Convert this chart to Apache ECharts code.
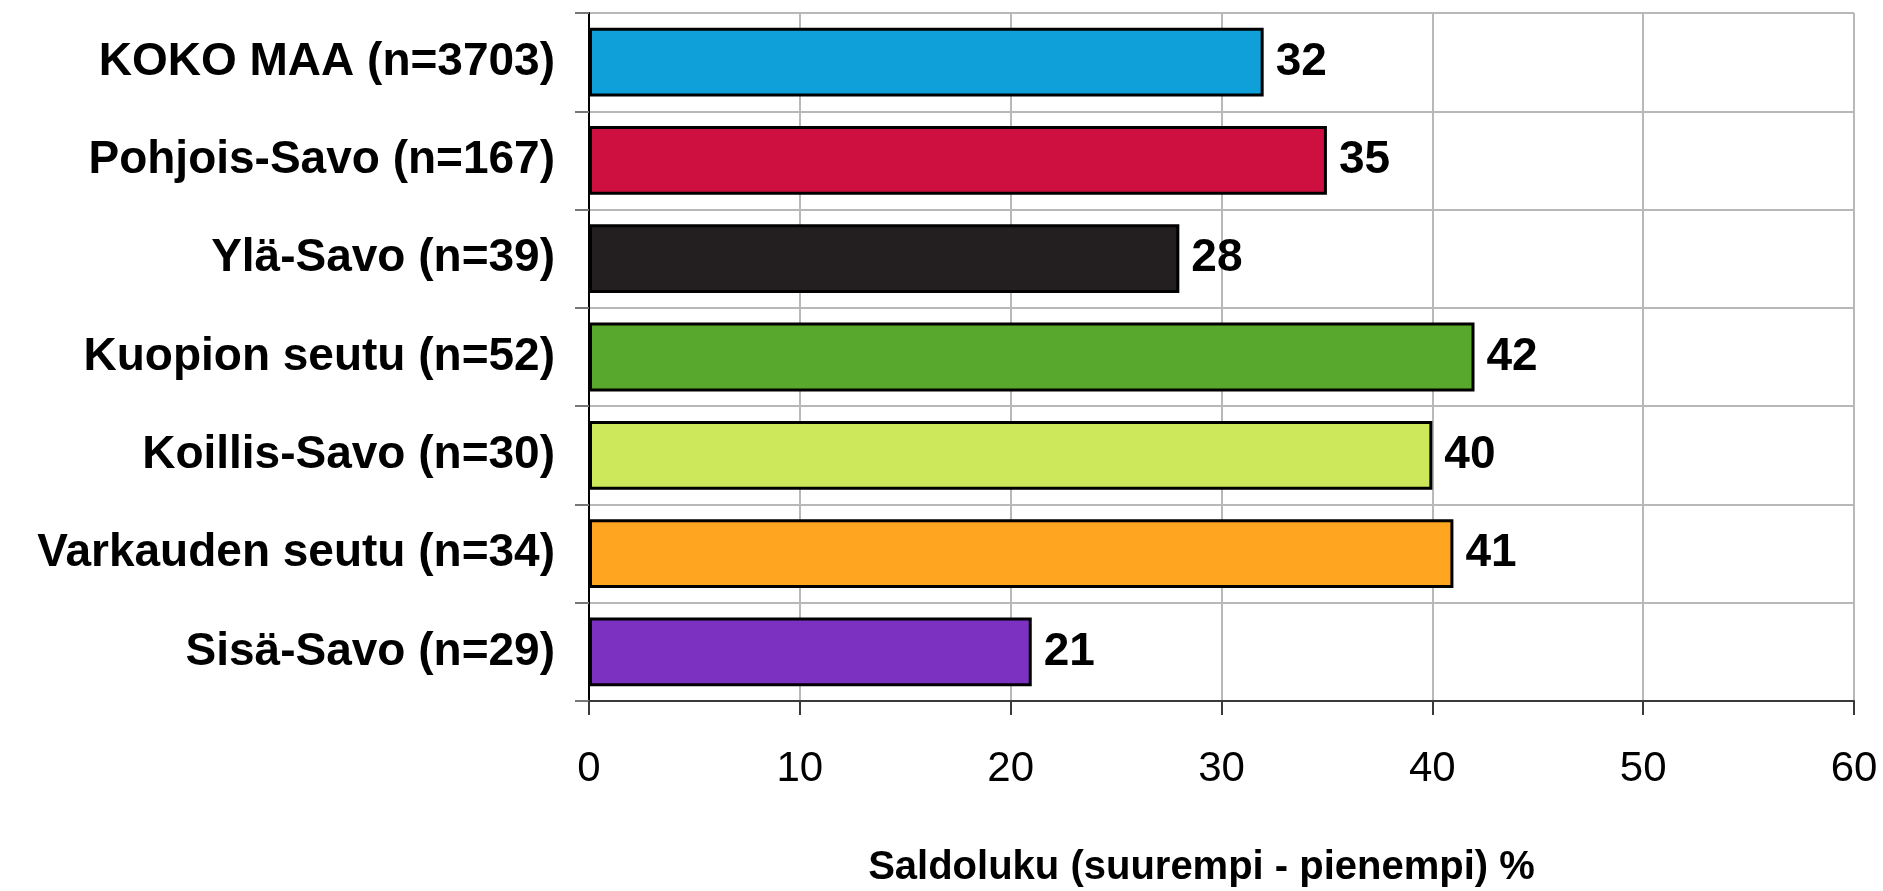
<!DOCTYPE html>
<html>
<head>
<meta charset="utf-8">
<script src="https://cdn.jsdelivr.net/npm/echarts@6/dist/echarts.min.js"></script>
<style>
html,body{margin:0;padding:0;background:#fff;}
#c{width:1883px;height:891px;}
</style>
</head>
<body>
<div id="c"></div>
<script>
const categories = ['KOKO MAA (n=3703)', 'Pohjois-Savo (n=167)', 'Ylä-Savo (n=39)', 'Kuopion seutu (n=52)', 'Koillis-Savo (n=30)', 'Varkauden seutu (n=34)', 'Sisä-Savo (n=29)'];
const values = [32, 35, 28, 42, 40, 41, 21];
const barColors = ['#0FA0DA', '#CE1040', '#231F20', '#58A82E', '#CDE85A', '#FFA520', '#7D31C0'];
const axisTitle = 'Saldoluku (suurempi - pienempi) %';

const fam = '"Liberation Sans", Arial, sans-serif';

const chart = echarts.init(document.getElementById('c'), null, {renderer: 'canvas'});
chart.setOption({
  animation: false,
  backgroundColor: '#ffffff',
  grid: {left: 589, right: 29, top: 13, bottom: 190, containLabel: false, outerBoundsMode: 'none'},
  xAxis: {
    type: 'value', min: 0, max: 60, interval: 10,
    axisLine: {show: true, lineStyle: {color: '#3a3a3a', width: 2}},
    axisTick: {show: true, length: 14, lineStyle: {color: '#3a3a3a', width: 2}},
    axisLabel: {margin: 47, fontSize: 42, color: '#000', fontFamily: fam},
    splitLine: {show: true, lineStyle: {color: '#b8b8b8', width: 2}},
    name: axisTitle, nameLocation: 'middle', nameGap: 147,
    nameTextStyle: {fontSize: 40, fontWeight: 'bold', color: '#000', fontFamily: fam, padding: [0, 40, 0, 0]}
  },
  yAxis: {
    type: 'category', data: categories, inverse: true,
    axisLine: {show: true, onZero: false, lineStyle: {color: '#000', width: 2}},
    axisTick: {show: true, length: 14, lineStyle: {color: '#777', width: 2}},
    axisLabel: {margin: 34, fontSize: 46, fontWeight: 'bold', color: '#000', fontFamily: fam},
    splitLine: {show: true, lineStyle: {color: '#b8b8b8', width: 2}}
  },
  series: [{
    type: 'bar',
    data: values.map((v, i) => ({value: v, itemStyle: {color: barColors[i]}})),
    barCategoryGap: '30%',
    itemStyle: {borderColor: '#000', borderWidth: 3},
    label: {show: true, position: 'right', distance: 12, fontSize: 46, fontWeight: 'bold', color: '#000', fontFamily: fam}
  }]
});
</script>
</body>
</html>
